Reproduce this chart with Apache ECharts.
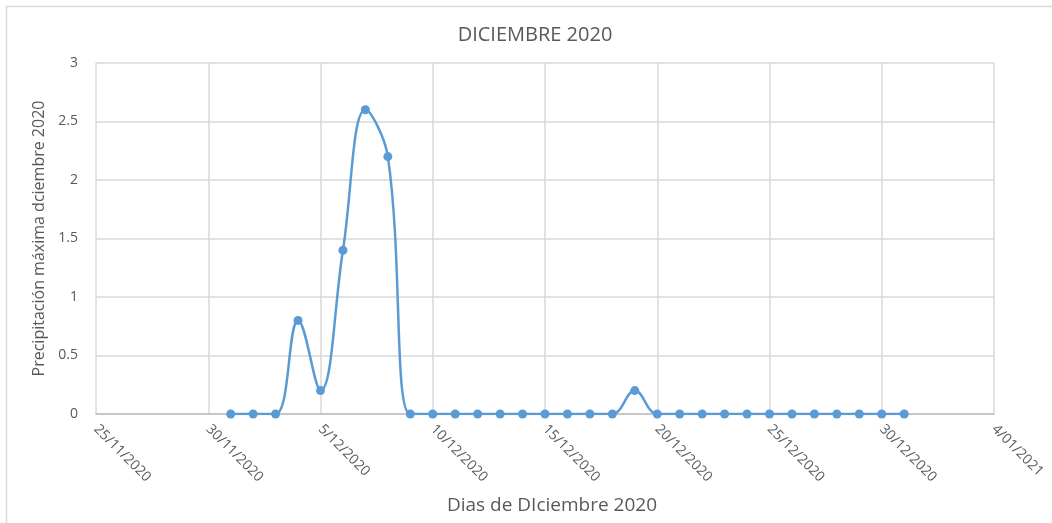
<!DOCTYPE html>
<html>
<head>
<meta charset="utf-8">
<script src="https://cdn.jsdelivr.net/npm/echarts@6/dist/echarts.min.js"></script>
<style>
  html, body { margin: 0; padding: 0; background: #fff; }
  #chart { width: 1052px; height: 523px; }
</style>
</head>
<body>
<div id="chart"></div>
<script>
// dias de diciembre 2020
const fechas = ['2020-12-01','2020-12-02','2020-12-03','2020-12-04','2020-12-05','2020-12-06','2020-12-07','2020-12-08',
  '2020-12-09','2020-12-10','2020-12-11','2020-12-12','2020-12-13','2020-12-14','2020-12-15','2020-12-16',
  '2020-12-17','2020-12-18','2020-12-19','2020-12-20','2020-12-21','2020-12-22','2020-12-23','2020-12-24',
  '2020-12-25','2020-12-26','2020-12-27','2020-12-28','2020-12-29','2020-12-30','2020-12-31'];
const precipitacion = [0, 0, 0, 0.8, 0.2, 1.4, 2.6, 2.2,
  0, 0, 0, 0, 0, 0, 0, 0,
  0, 0, 0.2, 0, 0, 0, 0, 0,
  0, 0, 0, 0, 0, 0, 0];
const inicioEje = '2020-11-25';
const finEje = '2021-01-04';

const DIA = 86400000;
const base = Date.parse(inicioEje);
function offset(f) { return Math.round((Date.parse(f) - base) / DIA); }
function fmt(v) {
  const d = new Date(base + v * DIA);
  const mm = String(d.getUTCMonth() + 1).padStart(2, '0');
  return d.getUTCDate() + '/' + mm + '/' + d.getUTCFullYear();
}

const txt = '#595959';
const font = 'Open Sans';

let myChart = echarts.init(document.getElementById('chart'));
let option = {
  animation: false,
  textStyle: { fontFamily: font },
  title: {
    text: 'DICIEMBRE 2020',
    left: 530, top: 20, textAlign: 'center',
    textStyle: { color: txt, fontSize: 20, fontWeight: 'normal', fontFamily: font }
  },
  graphic: [{
    type: 'rect',
    shape: { x: 6.5, y: 6.5, width: 1100, height: 600 },
    style: { fill: 'none', stroke: '#d9d9d9', lineWidth: 1.5 },
    silent: true
  }],
  grid: { left: 96, right: 58, top: 63, bottom: 109 },
  xAxis: {
    type: 'value',
    min: 0,
    max: offset(finEje),
    interval: 5,
    name: 'Dias de DIciembre 2020',
    nameLocation: 'middle',
    nameGap: 82,
    nameTextStyle: { color: txt, fontSize: 19, fontFamily: font, padding: [0, 0, 0, 14] },
    axisLine: { show: true, lineStyle: { color: '#bfbfbf', width: 1.5 } },
    axisTick: { show: false },
    axisLabel: {
      rotate: -45,
      color: txt,
      fontSize: 14,
      margin: 13,
      fontFamily: font,
      formatter: fmt
    },
    splitLine: { show: true, lineStyle: { color: '#d9d9d9', width: 1.5 } }
  },
  yAxis: {
    type: 'value',
    min: 0,
    max: 3,
    interval: 0.5,
    name: 'Precipitación máxima dciembre 2020',
    nameLocation: 'middle',
    nameGap: 38,
    nameTextStyle: { color: txt, fontSize: 16, fontFamily: font },
    axisLine: { show: false },
    axisTick: { show: false },
    axisLabel: { color: txt, fontSize: 14, margin: 18, fontFamily: font },
    splitLine: { show: true, lineStyle: { color: '#d9d9d9', width: 1.5 } }
  },
  series: [{
    type: 'line',
    smooth: 0.4,
    symbol: 'circle',
    symbolSize: 9,
    lineStyle: { color: '#5b9bd5', width: 2.5 },
    itemStyle: { color: '#5b9bd5' },
    data: fechas.map((f, i) => [offset(f), precipitacion[i]])
  }]
};
myChart.setOption(option);
</script>
</body>
</html>
